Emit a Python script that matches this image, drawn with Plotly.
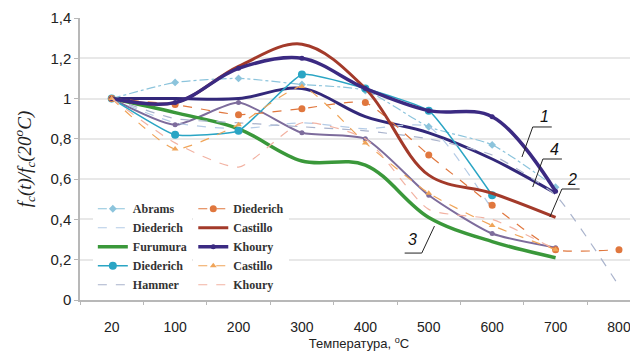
import plotly.graph_objects as go

categories = ["20", "100", "200", "300", "400", "500", "600", "700", "800"]

abrams      = [1.0, 1.08, 1.10, 1.07, 1.04, 0.86, 0.77, 0.56, None]
died_light  = [1.0, 0.88, 0.85, 0.88, 0.85, 0.86, 0.45, None, None]
furumura    = [1.0, 0.93, 0.85, 0.69, 0.67, 0.41, 0.29, 0.21, None]
died_teal   = [1.0, 0.82, 0.84, 1.12, 1.05, 0.94, 0.52, None, None]
hammer      = [1.0, 0.90, 0.88, 0.86, 0.84, 0.80, 0.72, 0.52, 0.07]
died_orange = [1.0, 0.97, 0.92, 0.95, 0.98, 0.72, 0.47, 0.25, 0.25]
castillo    = [1.0, 0.98, 1.16, 1.27, 1.05, 0.62, 0.53, 0.41, None]
khoury      = [1.0, 0.98, 1.15, 1.20, 1.05, 0.94, 0.91, 0.54, None]
castillo_tr = [1.0, 0.75, 0.87, 1.06, 0.78, 0.53, 0.37, 0.25, None]
khoury_pink = [1.0, 0.78, 0.66, 0.88, 0.80, 0.45, 0.40, 0.25, None]
khoury_4    = [1.0, 1.00, 1.00, 1.05, 0.91, 0.83, 0.70, 0.53, None]
khoury_thin = [1.0, 0.87, 0.98, 0.83, 0.80, 0.52, 0.33, 0.26, None]

fig = go.Figure()

def add(y, name, color, width, dash="solid", marker=None, msize=6, legend="legend", show=True, smooth=1.0):
    mode = "lines+markers" if marker else "lines"
    fig.add_trace(go.Scatter(
        x=categories, y=y, name=name, mode=mode,
        line=dict(color=color, width=width, dash=dash, shape="spline", smoothing=smooth),
        marker=dict(symbol=marker or "circle", size=msize, color=color),
        legend=legend, showlegend=show, connectgaps=False,
    ))

# non-legend lines drawn first
add(khoury_thin, "Khoury", "#7d6c9c", 2, marker="circle", msize=5, show=False, smooth=0.6)
add(khoury_4, "Khoury", "#33287a", 3, show=False)

# left column
add(abrams, "Abrams", "#8cc4dc", 1.2, dash="dashdot", marker="diamond", msize=6, smooth=0.6)
add(died_light, "Diederich", "#b4cbe6", 1.2, dash="dash", smooth=0.6)
add(furumura, "Furumura", "#3a983a", 3.5)
add(died_teal, "Diederich", "#2aa5c4", 1.5, marker="circle", msize=8, smooth=0.4)
add(hammer, "Hammer", "#a9b3cc", 1.2, dash="dash", smooth=0.5)

# right column
add(died_orange, "Diederich", "#e0773e", 1.2, dash="dash", marker="circle", msize=7, legend="legend2", smooth=0.5)
add(castillo, "Castillo", "#a33a2a", 3, legend="legend2")
add(khoury, "Khoury", "#3b2a82", 3.5, marker="circle", msize=5, legend="legend2")
add(castillo_tr, "Castillo", "#f0a458", 1.2, dash="dash", marker="triangle-up", msize=6, legend="legend2", smooth=0.5)
add(khoury_pink, "Khoury", "#f2b2a2", 1.2, dash="dash", legend="legend2", smooth=0.6)

# curve number labels with leader lines (x in category index, y in data units)
labels = [
    ("1", 6.83, 0.91, [(6.47, 0.71), (6.64, 0.859), (6.94, 0.859)]),
    ("4", 6.99, 0.745, [(6.64, 0.561), (6.80, 0.700), (7.10, 0.700)]),
    ("2", 7.26, 0.596, [(6.91, 0.412), (7.10, 0.551), (7.38, 0.551)]),
    ("3", 4.75, 0.298, [(5.09, 0.367), (4.89, 0.233), (4.62, 0.233)]),
]
for txt, tx, ty, pts in labels:
    fig.add_annotation(x=tx, y=ty, xref="x", yref="y", text="<i>" + txt + "</i>", showarrow=False,
                       font=dict(family="Liberation Sans, Arial", size=16, color="#111"))
    for (x0, y0), (x1, y1) in zip(pts[:-1], pts[1:]):
        fig.add_shape(type="line", x0=x0, y0=y0, x1=x1, y1=y1, xref="x", yref="y",
                      line=dict(color="#222", width=1))

legend_style = dict(font=dict(family="Liberation Serif, Times New Roman", size=12, color="#333", weight="bold"),
                    bgcolor="white", borderwidth=0, xanchor="left", yanchor="top",
                    itemwidth=30, tracegroupgap=0)

fig.update_layout(
    width=630, height=345,
    margin=dict(l=72, r=0, t=10, b=53),
    paper_bgcolor="white", plot_bgcolor="white",
    legend=dict(x=0.023, y=0.375, **legend_style),
    legend2=dict(x=0.203, y=0.375, **legend_style),
    xaxis=dict(type="category", range=[-0.5, 8.3], showgrid=False, automargin=False,
               showline=True, linecolor="#b8b8b8", linewidth=1.5,
               ticks="outside", tickson="boundaries", ticklen=3, tickcolor="#b8b8b8",
               ticklabelstandoff=13,
               tickfont=dict(family="Liberation Sans, Arial", size=14, color="#222"),
               title=dict(text="Температура, <sup>o</sup>C", standoff=1,
                          font=dict(family="Liberation Sans, Arial", size=13, color="#222"))),
    yaxis=dict(range=[0, 1.4], automargin=False,
               tickvals=[0, 0.2, 0.4, 0.6, 0.8, 1.0, 1.2, 1.4],
               ticktext=["0", "0,2", "0,4", "0,6", "0,8", "1", "1,2", "1,4"],
               showgrid=True, gridcolor="#e8e8e8", gridwidth=1.5,
               showline=True, linecolor="#b8b8b8", linewidth=1.5,
               ticks="outside", ticklen=4, tickcolor="#b8b8b8",
               tickfont=dict(family="Liberation Sans, Arial", size=15, color="#222"),
               title=dict(text="<i>f<sub>c</sub>(t)/f<sub>c</sub>(20<sup>o</sup>C)</i>", standoff=14,
                          font=dict(family="Liberation Serif, Times New Roman", size=19, color="#222"))),
)

fig.write_html("out.html")
